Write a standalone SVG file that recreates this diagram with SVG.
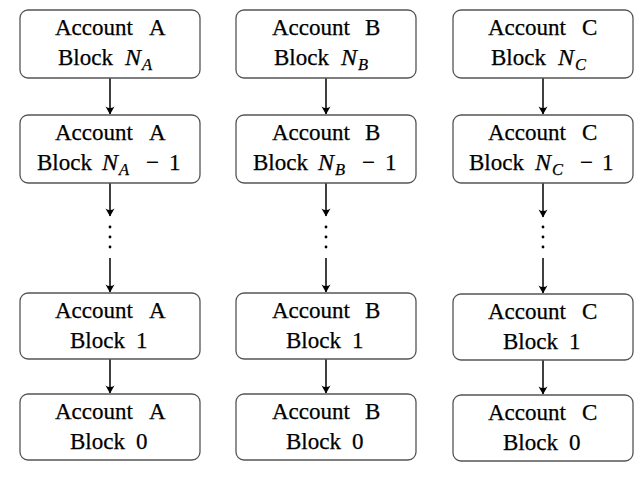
<svg xmlns="http://www.w3.org/2000/svg" width="640" height="491" viewBox="0 0 640 491">
<defs>
<marker id="arr" markerUnits="userSpaceOnUse" viewBox="-8 -6 9 12" refX="0" refY="0" markerWidth="9" markerHeight="12" orient="auto" overflow="visible">
<path d="M0.5,0 L-7.5,-4.5 Q-4.5,0 -7.5,4.5 Z" fill="#000"/>
</marker>
<style>
.box{fill:#fff;stroke:#555;stroke-width:1.3}
.t{font-family:"Liberation Serif","Times New Roman",serif;font-size:23px;fill:#000;stroke:#000;stroke-width:0.25}
.i{font-style:italic;font-size:24px}
.s{font-style:italic;font-size:16.5px}
.c line{stroke:#000;stroke-width:1.5;marker-end:url(#arr)}
.d circle{fill:#000}
</style>
</defs>
<rect width="640" height="491" fill="#fff"/>

<g id="connectors" class="c">
<line x1="110" y1="78" x2="110" y2="114"/>
<line x1="110" y1="183" x2="110" y2="216"/>
<line x1="110" y1="258" x2="110" y2="292"/>
<line x1="110" y1="359" x2="110" y2="393"/>
<line x1="326" y1="78" x2="326" y2="114"/>
<line x1="326" y1="183" x2="326" y2="216"/>
<line x1="326" y1="258" x2="326" y2="292"/>
<line x1="326" y1="359" x2="326" y2="393"/>
<line x1="543" y1="78" x2="543" y2="114"/>
<line x1="543" y1="183" x2="543" y2="217"/>
<line x1="543" y1="258" x2="543" y2="293"/>
<line x1="543" y1="360" x2="543" y2="394"/>
</g>
<g id="dots" class="d">
<circle cx="110" cy="227" r="1.4"/><circle cx="110" cy="237" r="1.4"/><circle cx="110" cy="247" r="1.4"/>
<circle cx="326" cy="227" r="1.4"/><circle cx="326" cy="237" r="1.4"/><circle cx="326" cy="247" r="1.4"/>
<circle cx="543" cy="227" r="1.4"/><circle cx="543" cy="237" r="1.4"/><circle cx="543" cy="247" r="1.4"/>
</g>

<!-- Column A -->
<g id="a-n">
<rect class="box" x="20" y="10" width="180" height="68" rx="8"/>
<text class="t" y="35"><tspan x="55">Account</tspan><tspan x="149">A</tspan></text>
<text class="t" y="65"><tspan x="58">Block</tspan><tspan x="125" class="i">N</tspan><tspan class="s" x="142" dy="4.5">A</tspan></text>
</g>
<g id="a-n1">
<rect class="box" x="20" y="115" width="180" height="68" rx="8"/>
<text class="t" y="140"><tspan x="55">Account</tspan><tspan x="149">A</tspan></text>
<text class="t" y="170"><tspan x="37">Block</tspan><tspan x="102" class="i">N</tspan><tspan class="s" x="119" dy="4.5">A</tspan><tspan x="146" dy="-4.5">−</tspan><tspan x="169">1</tspan></text>
</g>
<g id="a-1">
<rect class="box" x="20" y="293" width="180" height="66" rx="8"/>
<text class="t" y="318"><tspan x="55">Account</tspan><tspan x="149">A</tspan></text>
<text class="t" y="348"><tspan x="70">Block</tspan><tspan x="136">1</tspan></text>
</g>
<g id="a-0">
<rect class="box" x="20" y="394" width="180" height="66" rx="8"/>
<text class="t" y="419"><tspan x="55">Account</tspan><tspan x="149">A</tspan></text>
<text class="t" y="449"><tspan x="70">Block</tspan><tspan x="136">0</tspan></text>
</g>

<!-- Column B -->
<g id="b-n">
<rect class="box" x="236" y="10" width="180" height="68" rx="8"/>
<text class="t" y="35"><tspan x="272">Account</tspan><tspan x="365">B</tspan></text>
<text class="t" y="65"><tspan x="341" class="i">N</tspan><tspan class="s" x="358" dy="4.5">B</tspan><tspan x="274" dy="-4.5">Block</tspan></text>
</g>
<g id="b-n1">
<rect class="box" x="236" y="115" width="180" height="68" rx="8"/>
<text class="t" y="140"><tspan x="272">Account</tspan><tspan x="365">B</tspan></text>
<text class="t" y="170"><tspan x="253">Block</tspan><tspan x="318" class="i">N</tspan><tspan class="s" x="335" dy="4.5">B</tspan><tspan x="362" dy="-4.5">−</tspan><tspan x="385">1</tspan></text>
</g>
<g id="b-1">
<rect class="box" x="236" y="293" width="180" height="66" rx="8"/>
<text class="t" y="318"><tspan x="272">Account</tspan><tspan x="365">B</tspan></text>
<text class="t" y="348"><tspan x="286">Block</tspan><tspan x="352">1</tspan></text>
</g>
<g id="b-0">
<rect class="box" x="236" y="394" width="180" height="66" rx="8"/>
<text class="t" y="419"><tspan x="272">Account</tspan><tspan x="365">B</tspan></text>
<text class="t" y="449"><tspan x="286">Block</tspan><tspan x="352">0</tspan></text>
</g>

<!-- Column C -->
<g id="c-n">
<rect class="box" x="453" y="10" width="180" height="68" rx="8"/>
<text class="t" y="35"><tspan x="488">Account</tspan><tspan x="582">C</tspan></text>
<text class="t" y="65"><tspan x="491">Block</tspan><tspan x="558" class="i">N</tspan><tspan class="s" x="575" dy="4.5">C</tspan></text>
</g>
<g id="c-n1">
<rect class="box" x="453" y="115" width="180" height="68" rx="8"/>
<text class="t" y="140"><tspan x="488">Account</tspan><tspan x="582">C</tspan></text>
<text class="t" y="170"><tspan x="469">Block</tspan><tspan x="535" class="i">N</tspan><tspan class="s" x="552" dy="4.5">C</tspan><tspan x="580" dy="-4.5">−</tspan><tspan x="602">1</tspan></text>
</g>
<g id="c-1">
<rect class="box" x="453" y="294" width="180" height="66" rx="8"/>
<text class="t" y="319"><tspan x="488">Account</tspan><tspan x="582">C</tspan></text>
<text class="t" y="349"><tspan x="503">Block</tspan><tspan x="569">1</tspan></text>
</g>
<g id="c-0">
<rect class="box" x="453" y="395" width="180" height="66" rx="8"/>
<text class="t" y="420"><tspan x="488">Account</tspan><tspan x="582">C</tspan></text>
<text class="t" y="450"><tspan x="503">Block</tspan><tspan x="569">0</tspan></text>
</g>
</svg>
